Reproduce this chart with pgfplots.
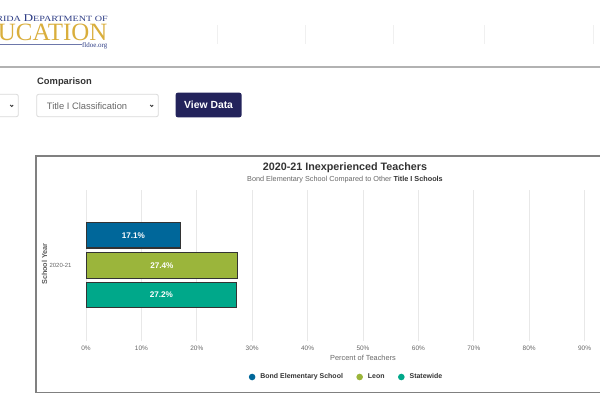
\documentclass[border=0pt]{standalone}
\usepackage{pgfplots}
\pgfplotsset{compat=1.18}
\usepackage{fontspec}
\setmainfont{Liberation Sans}
\newfontfamily\logofont{Liberation Serif}

\definecolor{bondblue}{HTML}{00679A}
\definecolor{leongreen}{HTML}{9BB53B}
\definecolor{statecol}{HTML}{00A88A}
\definecolor{btnnavy}{HTML}{23235B}
\definecolor{logonavy}{HTML}{2E3D85}
\definecolor{logogold}{HTML}{D9AE3C}
\definecolor{txtgray}{HTML}{666666}
\definecolor{txtdark}{HTML}{333333}

\newcommand{\fsz}[1]{\fontsize{#1}{#1}\selectfont}

\begin{document}
\begin{tikzpicture}[x=1bp,y=1bp]
\useasboundingbox (0,0) rectangle (600,400);
\clip (0,0) rectangle (600,400);

% page header (y counted from the bottom: 400 - pixel row)
\node[anchor=base east, inner sep=0, text=logonavy, font=\logofont] at (108,378.5)
  {\scalebox{1.27}[1]{\fsz{10.5}F\fsz{8}LORIDA \fsz{10.5}D\fsz{8}EPARTMENT OF}};
\node[anchor=base east, inner sep=0, text=logogold, font=\logofont\fsz{25}] at (107.5,360) {EDUCATION};
\draw[logonavy!70, line width=0.6bp] (0,355.5) -- (82,355.5);
\node[anchor=base east, inner sep=0, text=logonavy, font=\logofont\fsz{7}] at (107.5,353) {fldoe.org};
\foreach \xx in {217,305,393,484,593} \draw[black!6, line width=0.8bp] (\xx,375) -- (\xx,356);
\draw[black!30, line width=2bp] (0,333.3) -- (600,333.3);

% form controls
\node[anchor=base west, inner sep=0, text=txtdark, font=\bfseries\fsz{9.4}] at (37,315.5) {Comparison};
\draw[black!15, line width=0.8bp, rounded corners=2bp] (-10,305.7) rectangle (18.3,283.3);
\draw[txtdark, line width=0.8bp] (10.2,295) -- (11.7,293.5) -- (13.2,295);
\draw[black!15, line width=0.8bp, rounded corners=2bp] (36.7,305.7) rectangle (158.3,283.3);
\node[anchor=west, inner sep=0, text=txtgray, font=\fsz{9.4}] at (46.7,294) {Title I Classification};
\draw[txtdark, line width=0.8bp] (150.2,295) -- (151.7,293.5) -- (153.2,295);
\fill[btnnavy, rounded corners=2bp] (175.7,307.3) rectangle (241.5,282.7);
\node[inner sep=0, text=white, font=\bfseries\fsz{10.4}] at (208.6,295) {View Data};

% chart container
\draw[black!50, line width=1.4bp] (601,244) -- (36,244) -- (36,7.5) -- (601,7.5);

\node[anchor=base, inner sep=0, text=txtdark, font=\bfseries\fsz{10.8}] at (345,230)
  {2020-21 Inexperienced Teachers};
\node[inner sep=0, text=txtgray, font=\fsz{7.3}] at (345,220)
  {Bond Elementary School Compared to Other \textcolor{txtdark}{\bfseries Title I Schools}};

\begin{axis}[
    at={(86bp,59bp)}, anchor=south west,
    scale only axis,
    width=554bp, height=151bp,
    xbar,
    bar width=25.5bp,
    xmin=0, xmax=100,
    ymin=-75.5, ymax=75.5,
    /pgf/number format/assume math mode=true,
    xtick={0,10,...,90},
    xticklabel={\pgfmathprintnumber{\tick}\%},
    ytick={0},
    yticklabels={2020-21},
    xmajorgrids,
    major grid style={draw=black!9, line width=0.8bp},
    axis line style={draw=none},
    major tick length=0pt,
    tick label style={text=txtgray, font=\fsz{6.5}},
    xticklabel style={anchor=center, yshift=-7bp},
    yticklabel style={anchor=east, xshift=-11bp, font=\fsz{6}},
    xlabel={Percent of Teachers},
    xlabel style={at={(axis description cs:0.5,0)}, anchor=center, yshift=-17bp,
                  text=txtgray, font=\fsz{7.4}},
    ylabel={School Year},
    ylabel style={at={(axis description cs:0,0.5)}, anchor=center, yshift=41.5bp,
                  xshift=1.5bp, text=txtdark!80, font=\bfseries\fsz{7.3}},
    visualization depends on={rawx \as \rawx},
    nodes near coords={\pgfmathprintnumber[fixed,precision=1,fixed zerofill]{\pgfplotspointmeta}\%},
    every node near coord/.append style={anchor=center, text=white,
                  font=\bfseries\fsz{8.2}, xshift={-2.77bp*\rawx}},
    legend columns=3,
    legend image code/.code={\fill[#1,draw=none] (0bp,0bp) circle (3.3bp);},
    legend style={at={(0.4684,0)}, anchor=center, yshift=-36bp, draw=none, fill=none,
                  font=\bfseries\fsz{7}, text=txtdark,
                  nodes={inner sep=0pt},
                  /tikz/every odd column/.append style={column sep=5bp},
                  /tikz/every even column/.append style={column sep=13.4bp}},
]
\addplot[fill=bondblue, draw=black!80, line width=1.3bp, bar shift=30.3bp]
  coordinates {(17.1,0)};
\addlegendentry{Bond Elementary School}
\addplot[fill=leongreen, draw=black!80, line width=1.3bp, bar shift=0bp]
  coordinates {(27.4,0)};
\addlegendentry{Leon}
\addplot[fill=statecol, draw=black!80, line width=1.3bp, bar shift=-29.5bp]
  coordinates {(27.2,0)};
\addlegendentry{Statewide}
\end{axis}
\end{tikzpicture}
\end{document}
